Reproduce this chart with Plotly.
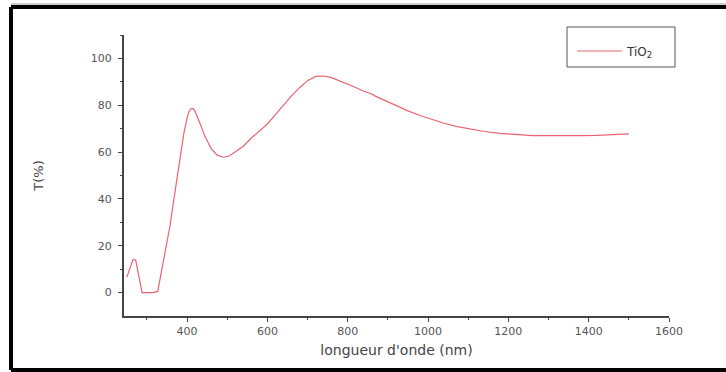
import plotly.graph_objects as go

# Transmission spectrum of a TiO2 film
wavelength_nm = [250, 258, 265, 272, 280, 288, 300, 315, 327, 340, 357, 370, 382, 392,
                 400, 405, 410, 415, 420, 426, 434, 445, 460, 475, 490, 505, 520, 540,
                 560, 580, 600, 620, 640, 660, 680, 700, 720, 740, 760, 780, 800, 820,
                 840, 860, 870, 890, 920, 950, 980, 1010, 1040, 1070, 1100, 1140, 1180,
                 1220, 1260, 1300, 1340, 1380, 1420, 1460, 1500]
transmittance = [6.5, 11, 14, 14, 7, 0, 0, 0, 0.5, 12, 28, 43, 57, 68,
                 74.5, 77.3, 78.6, 78.6, 77.4, 75, 71.5, 66.5, 61.5, 58.7, 57.8, 58.3, 60, 62.5,
                 66, 69, 72, 76, 80, 84, 87.5, 90.5, 92.3, 92.5, 91.8, 90.5, 89.2, 87.6,
                 86, 84.8, 83.8, 82.2, 79.8, 77.6, 75.6, 73.8, 72.3, 71, 70, 68.8, 68,
                 67.4, 67, 67, 66.9, 67, 67.1, 67.5, 67.8]

series_name = "TiO<sub>2</sub>"
x_title = "longueur d'onde (nm)"
y_title = "T(%)"

# Plot area in pixels (726 x 372 canvas)
L, R, T, B = 124, 669, 35, 316
W, H = 726, 372


def px(xp):
    return (xp - L) / (R - L)


def py(yp):
    return (B - yp) / (B - T)


axis_color = "#444444"
font_family = "DejaVu Sans"

fig = go.Figure()
fig.add_trace(go.Scatter(
    x=wavelength_nm, y=transmittance, mode="lines", name=series_name,
    line=dict(color="rgb(234,100,112)", width=1.2),
))

fig.update_layout(
    width=W, height=H,
    margin=dict(l=L, r=W - R, t=T, b=H - B, pad=0),
    paper_bgcolor="white", plot_bgcolor="white",
    showlegend=True,
    legend=dict(
        x=px(572), y=py(51), xanchor="left", yanchor="middle",
        bgcolor="rgba(0,0,0,0)", borderwidth=0, itemwidth=45,
        font=dict(family=font_family, size=12, color="#333333"),
    ),
    font=dict(family=font_family, color="#444444"),
)

fig.update_xaxes(
    range=[243, 1600], showgrid=False, zeroline=False,
    showline=True, linecolor=axis_color, linewidth=2, mirror=False,
    tickmode="array", tickvals=[400, 600, 800, 1000, 1200, 1400, 1600],
    ticks="outside", ticklen=4, tickwidth=1, tickcolor=axis_color,
    minor=dict(tickvals=[300, 500, 700, 900, 1100, 1300, 1500],
               ticks="outside", ticklen=2, tickcolor=axis_color),
    tickfont=dict(family=font_family, size=11, color="#555555"),
    title=dict(text=x_title, standoff=8,
               font=dict(family=font_family, size=14, color="#444444")),
)
fig.update_yaxes(
    range=[-10, 110], showgrid=False, zeroline=False,
    showline=True, linecolor=axis_color, linewidth=2, mirror=False,
    tickmode="array", tickvals=[0, 20, 40, 60, 80, 100],
    ticks="outside", ticklen=4, tickwidth=1, tickcolor=axis_color,
    ticklabelstandoff=4,
    minor=dict(tickvals=[10, 30, 50, 70, 90, 110],
               ticks="outside", ticklen=2, tickcolor=axis_color),
    tickfont=dict(family=font_family, size=11, color="#555555"),
    title=dict(text=y_title, standoff=44,
               font=dict(family=font_family, size=13, color="#444444")),
)

# Legend frame
fig.add_shape(type="rect", xref="paper", yref="paper",
              x0=px(567), x1=px(675), y0=py(67), y1=py(27),
              line=dict(color="#555555", width=1), fillcolor="rgba(0,0,0,0)")

# Black outer frame: left, top and bottom edges only
xl, xr = px(11), px(W)
yt, yb = py(7), py(370)
frame = dict(color="black", width=4)
fig.add_shape(type="line", xref="paper", yref="paper",
              x0=xl, x1=xr, y0=yt, y1=yt, line=frame)
fig.add_shape(type="line", xref="paper", yref="paper",
              x0=xl, x1=xr, y0=yb, y1=yb, line=frame)
fig.add_shape(type="line", xref="paper", yref="paper",
              x0=xl, x1=xl, y0=yb, y1=yt, line=frame)
# Thin grey rule just above the top edge
fig.add_shape(type="line", xref="paper", yref="paper",
              x0=xl, x1=xr, y0=py(4), y1=py(4),
              line=dict(color="#9a9a9a", width=1))

fig.write_html("out.html")
